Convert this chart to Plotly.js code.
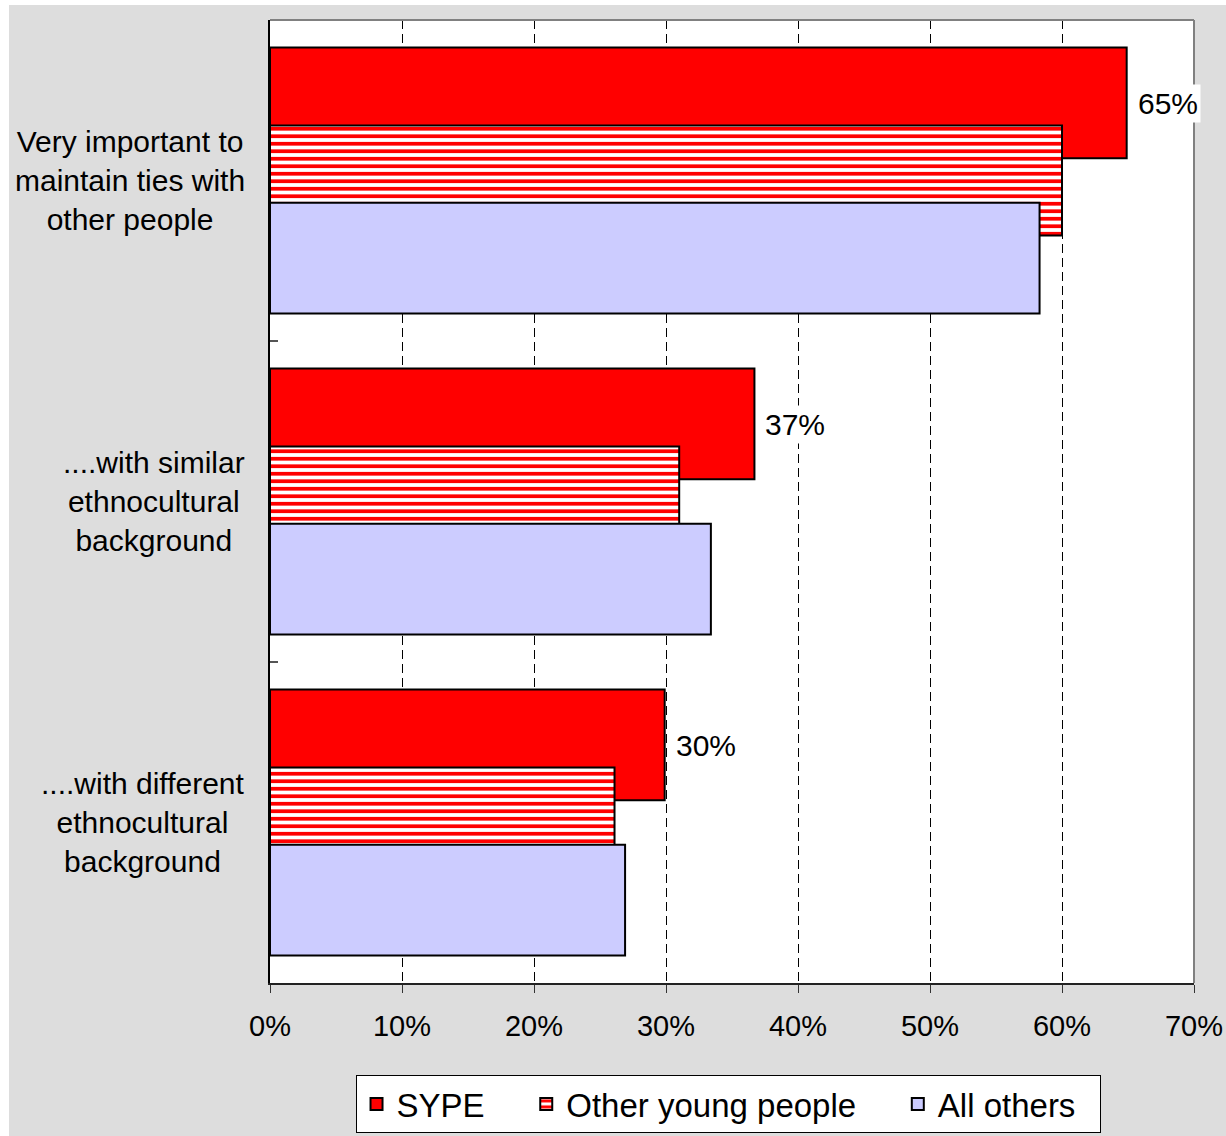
<!DOCTYPE html>
<html>
<head>
<meta charset="utf-8">
<script src="https://cdn.plot.ly/plotly-3.0.1.min.js"></script>
<style>
  html, body { margin: 0; padding: 0; background: #ffffff; }
  #wrap { position: absolute; left: 9px; top: 5px; width: 1217px; height: 1131px; }
  #chart { width: 1217px; height: 1131px; }
</style>
</head>
<body>
<div id="wrap"><div id="chart"></div></div>
<script>
const categories = [
  "Very important to<br>maintain ties with<br>other people",
  "....with similar<br>ethnocultural<br>background",
  "....with different<br>ethnocultural<br>background"
];
const seriesNames = ["SYPE", "Other young people", "All others"];
const sype = [64.9, 36.7, 29.9];
const otherYoung = [60.0, 31.0, 26.1];
const allOthers = [58.3, 33.4, 26.9];
const xTickVals = [0, 10, 20, 30, 40, 50, 60, 70];
const xTickText = ["0%", "10%", "20%", "30%", "40%", "50%", "60%", "70%"];

const FONT = "Liberation Sans, Arial, sans-serif";
const RED = "#FF0000";
const LAV = "#CCCCFF";
const LEG_PAD = "\u00A0\u00A0\u00A0\u00A0";
const LEG_PAD_LAST = "\u00A0\u00A0";

const barLine = { color: "#000000", width: 2 };

const traces = [
  {
    type: "bar", orientation: "h", name: seriesNames[0] + LEG_PAD,
    y: categories, x: sype,
    offset: -0.414, width: 0.345,
    marker: { color: RED, line: barLine },
    hoverinfo: "skip"
  },
  {
    type: "bar", orientation: "h", name: seriesNames[1] + LEG_PAD,
    y: categories, x: otherYoung,
    offset: -0.171, width: 0.342,
    marker: {
      color: RED, line: barLine,
      pattern: { shape: "-", fillmode: "replace", bgcolor: "#FFFFFF", fgcolor: RED, size: 7.5, solidity: 0.5 }
    },
    hoverinfo: "skip"
  },
  {
    type: "bar", orientation: "h", name: seriesNames[2] + LEG_PAD_LAST,
    y: categories, x: allOthers,
    offset: 0.069, width: 0.345,
    marker: { color: LAV, line: barLine },
    hoverinfo: "skip"
  }
];

const annotations = [];
categories.forEach((c, i) => {
  annotations.push({
    xref: "paper", yref: "y", x: 0, y: c,
    xanchor: "right", yanchor: "middle", align: "center",
    xshift: -23, showarrow: false,
    text: c, font: { family: FONT, size: 30, color: "#000" }
  });
  annotations.push({
    xref: "x", yref: "y", x: sype[i], y: c,
    xanchor: "left", yanchor: "middle",
    xshift: 8, yshift: 77, showarrow: false,
    text: Math.round(sype[i]) + "%", bgcolor: "#FFFFFF", borderpad: 2,
    font: { family: FONT, size: 30, color: "#000" }
  });
});

const layout = {
  width: 1217, height: 1131,
  margin: { l: 261, r: 32, t: 15, b: 153, autoexpand: false },
  paper_bgcolor: "#DDDDDD",
  plot_bgcolor: "#FFFFFF",
  barmode: "overlay",
  font: { family: FONT, size: 29, color: "#000" },
  showlegend: true,
  legend: {
    orientation: "h", x: 0.4957, xanchor: "center", y: -0.0955, yanchor: "top",
    bgcolor: "#FFFFFF", bordercolor: "#000000", borderwidth: 1,
    font: { family: FONT, size: 33, color: "#000" },
    traceorder: "normal"
  },
  xaxis: {
    range: [0, 70], tickmode: "array", tickvals: xTickVals, ticktext: xTickText,
    showgrid: true, gridcolor: "#000000", gridwidth: 1, griddash: "9px,5px",
    zeroline: false, showline: true, linecolor: "#222222", linewidth: 2,
    ticks: "outside", ticklen: 8, tickcolor: "#333333", tickwidth: 1,
    ticklabelstandoff: 8,
    tickfont: { family: FONT, size: 29, color: "#000" },
    fixedrange: true
  },
  yaxis: {
    type: "category", categoryorder: "array", categoryarray: categories,
    range: [2.5, -0.5],
    showgrid: false, zeroline: false, showline: true, linecolor: "#000000", linewidth: 2,
    ticks: "inside", tickson: "boundaries", ticklen: 8, tickcolor: "#555555", tickwidth: 2,
    showticklabels: false, fixedrange: true
  },
  shapes: [
    { type: "line", xref: "paper", yref: "paper", x0: 0, x1: 1, y0: 1, y1: 1, line: { color: "#808080", width: 2 }, layer: "above" },
    { type: "line", xref: "paper", yref: "paper", x0: 1, x1: 1, y0: 0, y1: 1, line: { color: "#808080", width: 2 }, layer: "above" }
  ],
  annotations: annotations
};

Plotly.newPlot("chart", traces, layout, { displayModeBar: false, staticPlot: true });
</script>
</body>
</html>
